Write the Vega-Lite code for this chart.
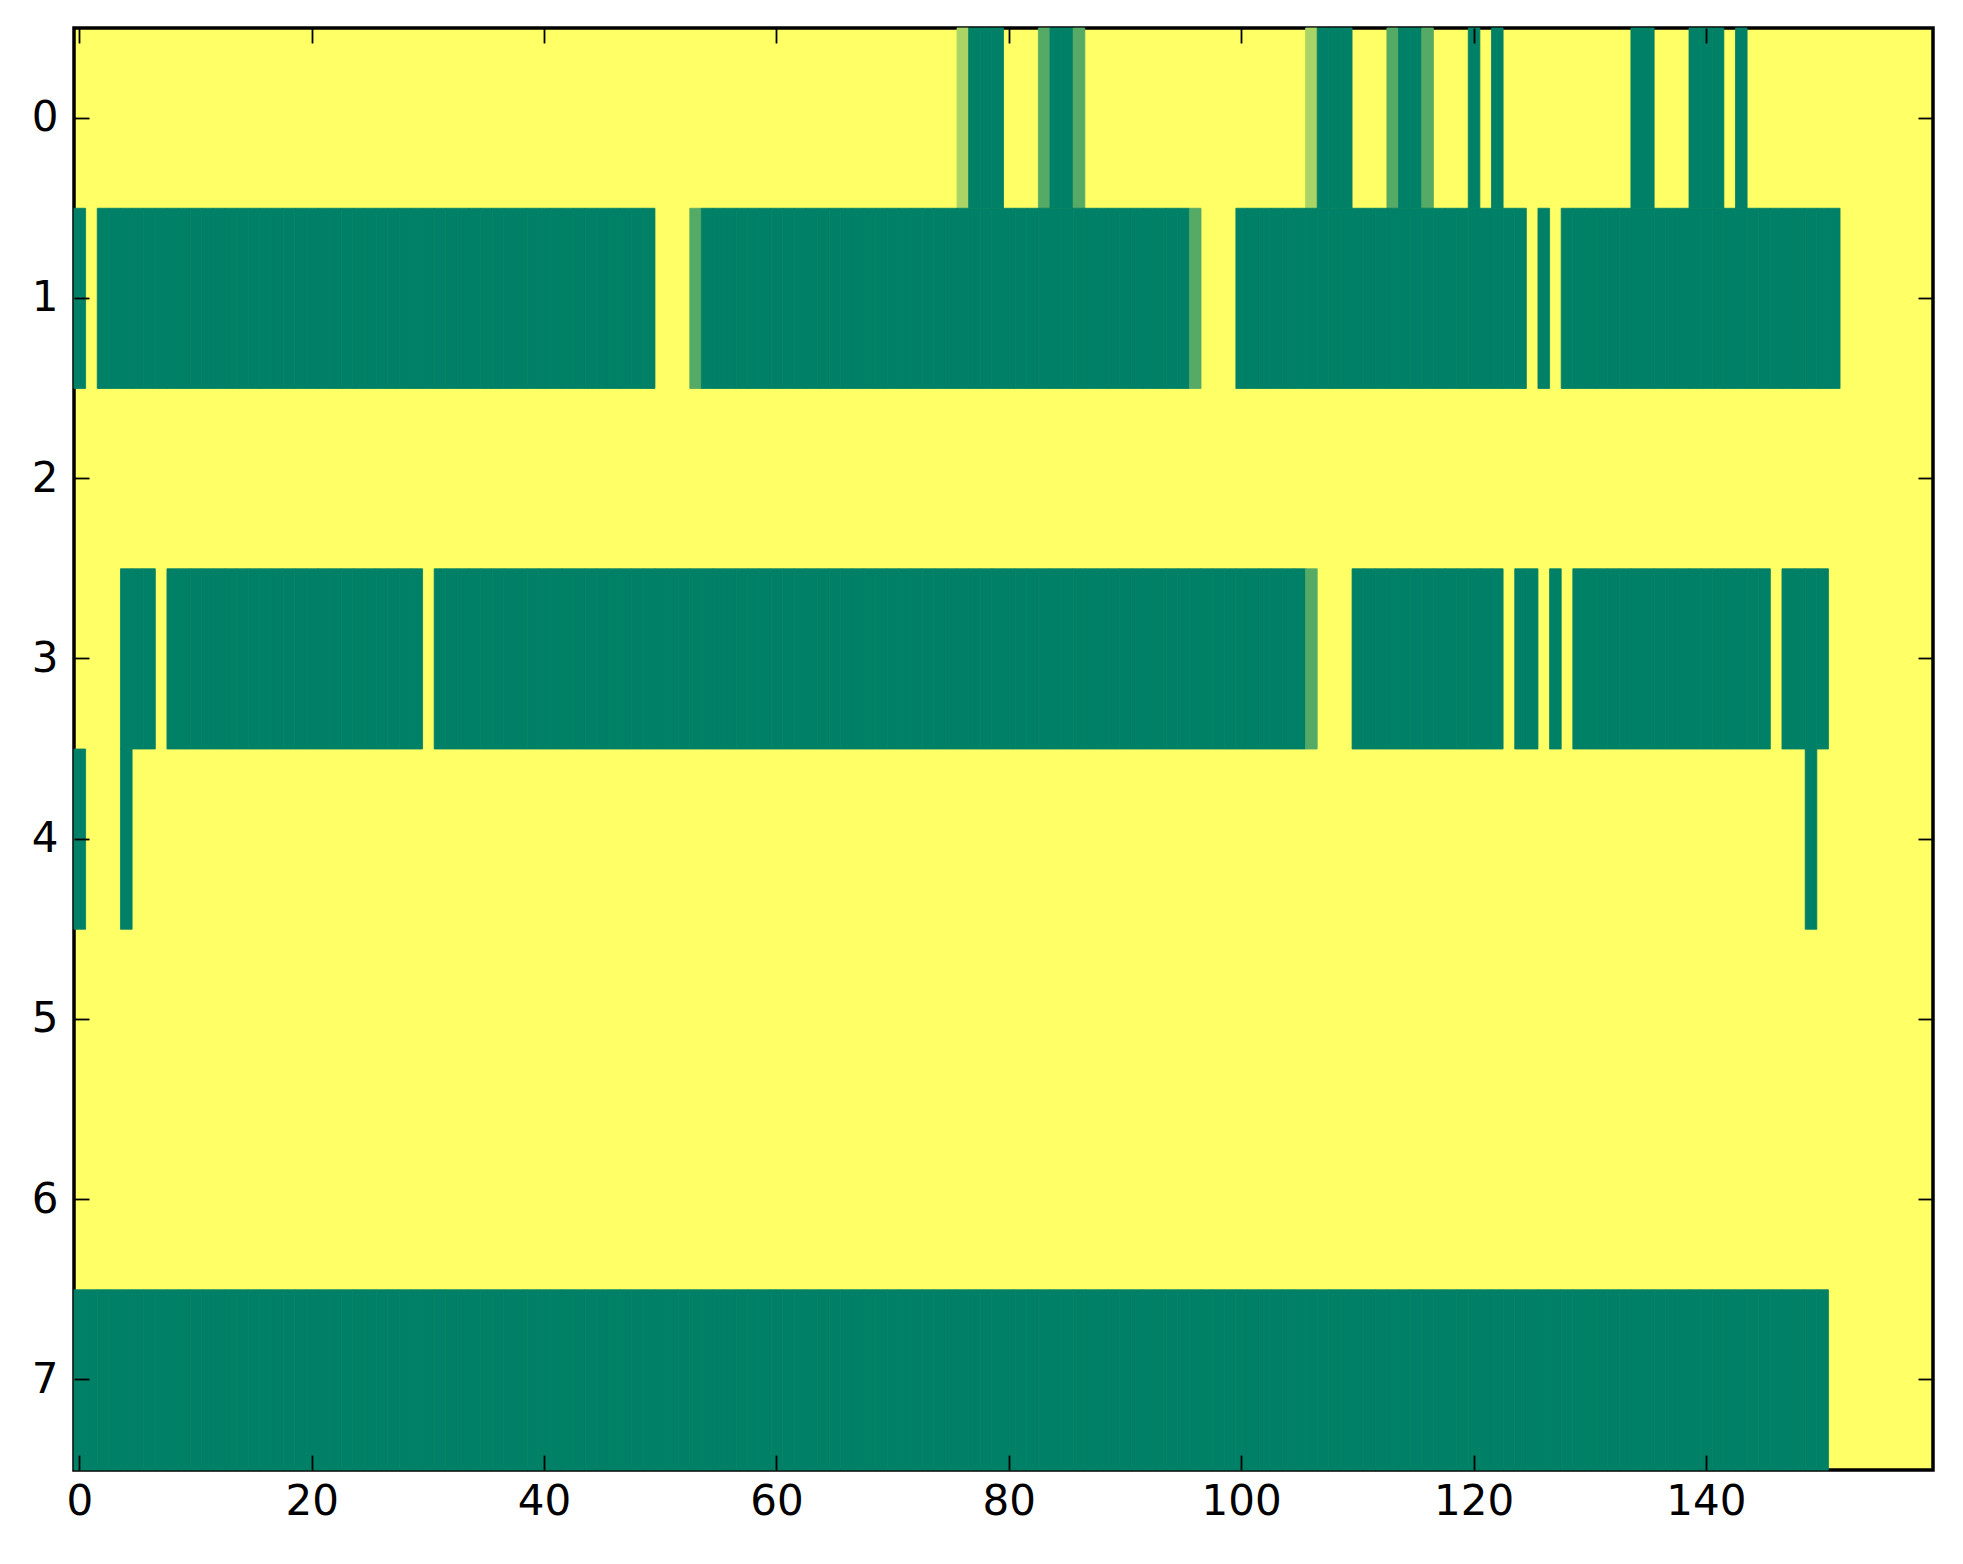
{
  "$schema": "https://vega.github.io/schema/vega-lite/v6.json",
  "width": 1859,
  "height": 1442,
  "autosize": "none",
  "padding": {"left": 74, "top": 28, "right": 30, "bottom": 94},
  "background": "white",
  "data": {
    "values": "r,c,v\n0,76,0.333\n0,77,1\n0,78,1\n0,79,1\n0,83,0.667\n0,84,1\n0,85,1\n0,86,0.667\n0,106,0.333\n0,107,1\n0,108,1\n0,109,1\n0,113,0.667\n0,114,1\n0,115,1\n0,116,0.667\n0,120,1\n0,122,1\n0,134,1\n0,135,1\n0,139,1\n0,140,1\n0,141,1\n0,143,1\n1,0,1\n1,2,1\n1,3,1\n1,4,1\n1,5,1\n1,6,1\n1,7,1\n1,8,1\n1,9,1\n1,10,1\n1,11,1\n1,12,1\n1,13,1\n1,14,1\n1,15,1\n1,16,1\n1,17,1\n1,18,1\n1,19,1\n1,20,1\n1,21,1\n1,22,1\n1,23,1\n1,24,1\n1,25,1\n1,26,1\n1,27,1\n1,28,1\n1,29,1\n1,30,1\n1,31,1\n1,32,1\n1,33,1\n1,34,1\n1,35,1\n1,36,1\n1,37,1\n1,38,1\n1,39,1\n1,40,1\n1,41,1\n1,42,1\n1,43,1\n1,44,1\n1,45,1\n1,46,1\n1,47,1\n1,48,1\n1,49,1\n1,53,0.667\n1,54,1\n1,55,1\n1,56,1\n1,57,1\n1,58,1\n1,59,1\n1,60,1\n1,61,1\n1,62,1\n1,63,1\n1,64,1\n1,65,1\n1,66,1\n1,67,1\n1,68,1\n1,69,1\n1,70,1\n1,71,1\n1,72,1\n1,73,1\n1,74,1\n1,75,1\n1,76,1\n1,77,1\n1,78,1\n1,79,1\n1,80,1\n1,81,1\n1,82,1\n1,83,1\n1,84,1\n1,85,1\n1,86,1\n1,87,1\n1,88,1\n1,89,1\n1,90,1\n1,91,1\n1,92,1\n1,93,1\n1,94,1\n1,95,1\n1,96,0.667\n1,100,1\n1,101,1\n1,102,1\n1,103,1\n1,104,1\n1,105,1\n1,106,1\n1,107,1\n1,108,1\n1,109,1\n1,110,1\n1,111,1\n1,112,1\n1,113,1\n1,114,1\n1,115,1\n1,116,1\n1,117,1\n1,118,1\n1,119,1\n1,120,1\n1,121,1\n1,122,1\n1,123,1\n1,124,1\n1,126,1\n1,128,1\n1,129,1\n1,130,1\n1,131,1\n1,132,1\n1,133,1\n1,134,1\n1,135,1\n1,136,1\n1,137,1\n1,138,1\n1,139,1\n1,140,1\n1,141,1\n1,142,1\n1,143,1\n1,144,1\n1,145,1\n1,146,1\n1,147,1\n1,148,1\n1,149,1\n1,150,1\n1,151,1\n3,4,1\n3,5,1\n3,6,1\n3,8,1\n3,9,1\n3,10,1\n3,11,1\n3,12,1\n3,13,1\n3,14,1\n3,15,1\n3,16,1\n3,17,1\n3,18,1\n3,19,1\n3,20,1\n3,21,1\n3,22,1\n3,23,1\n3,24,1\n3,25,1\n3,26,1\n3,27,1\n3,28,1\n3,29,1\n3,31,1\n3,32,1\n3,33,1\n3,34,1\n3,35,1\n3,36,1\n3,37,1\n3,38,1\n3,39,1\n3,40,1\n3,41,1\n3,42,1\n3,43,1\n3,44,1\n3,45,1\n3,46,1\n3,47,1\n3,48,1\n3,49,1\n3,50,1\n3,51,1\n3,52,1\n3,53,1\n3,54,1\n3,55,1\n3,56,1\n3,57,1\n3,58,1\n3,59,1\n3,60,1\n3,61,1\n3,62,1\n3,63,1\n3,64,1\n3,65,1\n3,66,1\n3,67,1\n3,68,1\n3,69,1\n3,70,1\n3,71,1\n3,72,1\n3,73,1\n3,74,1\n3,75,1\n3,76,1\n3,77,1\n3,78,1\n3,79,1\n3,80,1\n3,81,1\n3,82,1\n3,83,1\n3,84,1\n3,85,1\n3,86,1\n3,87,1\n3,88,1\n3,89,1\n3,90,1\n3,91,1\n3,92,1\n3,93,1\n3,94,1\n3,95,1\n3,96,1\n3,97,1\n3,98,1\n3,99,1\n3,100,1\n3,101,1\n3,102,1\n3,103,1\n3,104,1\n3,105,1\n3,106,0.667\n3,110,1\n3,111,1\n3,112,1\n3,113,1\n3,114,1\n3,115,1\n3,116,1\n3,117,1\n3,118,1\n3,119,1\n3,120,1\n3,121,1\n3,122,1\n3,124,1\n3,125,1\n3,127,1\n3,129,1\n3,130,1\n3,131,1\n3,132,1\n3,133,1\n3,134,1\n3,135,1\n3,136,1\n3,137,1\n3,138,1\n3,139,1\n3,140,1\n3,141,1\n3,142,1\n3,143,1\n3,144,1\n3,145,1\n3,147,1\n3,148,1\n3,149,1\n3,150,1\n4,0,1\n4,4,1\n4,149,1\n7,0,1\n7,1,1\n7,2,1\n7,3,1\n7,4,1\n7,5,1\n7,6,1\n7,7,1\n7,8,1\n7,9,1\n7,10,1\n7,11,1\n7,12,1\n7,13,1\n7,14,1\n7,15,1\n7,16,1\n7,17,1\n7,18,1\n7,19,1\n7,20,1\n7,21,1\n7,22,1\n7,23,1\n7,24,1\n7,25,1\n7,26,1\n7,27,1\n7,28,1\n7,29,1\n7,30,1\n7,31,1\n7,32,1\n7,33,1\n7,34,1\n7,35,1\n7,36,1\n7,37,1\n7,38,1\n7,39,1\n7,40,1\n7,41,1\n7,42,1\n7,43,1\n7,44,1\n7,45,1\n7,46,1\n7,47,1\n7,48,1\n7,49,1\n7,50,1\n7,51,1\n7,52,1\n7,53,1\n7,54,1\n7,55,1\n7,56,1\n7,57,1\n7,58,1\n7,59,1\n7,60,1\n7,61,1\n7,62,1\n7,63,1\n7,64,1\n7,65,1\n7,66,1\n7,67,1\n7,68,1\n7,69,1\n7,70,1\n7,71,1\n7,72,1\n7,73,1\n7,74,1\n7,75,1\n7,76,1\n7,77,1\n7,78,1\n7,79,1\n7,80,1\n7,81,1\n7,82,1\n7,83,1\n7,84,1\n7,85,1\n7,86,1\n7,87,1\n7,88,1\n7,89,1\n7,90,1\n7,91,1\n7,92,1\n7,93,1\n7,94,1\n7,95,1\n7,96,1\n7,97,1\n7,98,1\n7,99,1\n7,100,1\n7,101,1\n7,102,1\n7,103,1\n7,104,1\n7,105,1\n7,106,1\n7,107,1\n7,108,1\n7,109,1\n7,110,1\n7,111,1\n7,112,1\n7,113,1\n7,114,1\n7,115,1\n7,116,1\n7,117,1\n7,118,1\n7,119,1\n7,120,1\n7,121,1\n7,122,1\n7,123,1\n7,124,1\n7,125,1\n7,126,1\n7,127,1\n7,128,1\n7,129,1\n7,130,1\n7,131,1\n7,132,1\n7,133,1\n7,134,1\n7,135,1\n7,136,1\n7,137,1\n7,138,1\n7,139,1\n7,140,1\n7,141,1\n7,142,1\n7,143,1\n7,144,1\n7,145,1\n7,146,1\n7,147,1\n7,148,1\n7,149,1\n7,150,1\n",
    "format": {"type": "csv", "parse": {"r": "number", "c": "number", "v": "number"}}
  },
  "layer": [
    {
      "mark": {"type": "rect", "strokeWidth": 0.8},
      "encoding": {
        "x": {
          "field": "c",
          "type": "ordinal",
          "scale": {"domain": [0,1,2,3,4,5,6,7,8,9,10,11,12,13,14,15,16,17,18,19,20,21,22,23,24,25,26,27,28,29,30,31,32,33,34,35,36,37,38,39,40,41,42,43,44,45,46,47,48,49,50,51,52,53,54,55,56,57,58,59,60,61,62,63,64,65,66,67,68,69,70,71,72,73,74,75,76,77,78,79,80,81,82,83,84,85,86,87,88,89,90,91,92,93,94,95,96,97,98,99,100,101,102,103,104,105,106,107,108,109,110,111,112,113,114,115,116,117,118,119,120,121,122,123,124,125,126,127,128,129,130,131,132,133,134,135,136,137,138,139,140,141,142,143,144,145,146,147,148,149,150,151,152,153,154,155,156,157,158,159], "paddingInner": 0, "paddingOuter": 0},
          "axis": {"orient": "bottom", "values": [0,20,40,60,80,100,120,140], "labelAngle": 0, "labelPadding": 26}
        },
        "y": {
          "field": "r",
          "type": "ordinal",
          "scale": {"domain": [0,1,2,3,4,5,6,7], "paddingInner": 0, "paddingOuter": 0},
          "axis": {"orient": "left", "labelPadding": 31}
        },
        "color": {
          "field": "v",
          "type": "quantitative",
          "scale": {"domain": [0, 1], "range": ["#ffff66", "#008066"], "interpolate": "rgb"},
          "legend": null
        },
        "stroke": {
          "field": "v",
          "type": "quantitative",
          "scale": {"domain": [0, 1], "range": ["#ffff66", "#008066"], "interpolate": "rgb"},
          "legend": null
        }
      }
    },
    {
      "mark": {"type": "rect", "opacity": 0},
      "encoding": {
        "x": {
          "field": "c",
          "type": "ordinal",
          "axis": {"orient": "top", "values": [0,20,40,60,80,100,120,140], "labels": false}
        },
        "y": {
          "field": "r",
          "type": "ordinal",
          "axis": {"orient": "right", "labels": false}
        }
      }
    }
  ],
  "resolve": {"axis": {"x": "independent", "y": "independent"}},
  "config": {
    "view": {"fill": "#ffff66", "stroke": "black", "strokeWidth": 3.5},
    "axis": {
      "title": null,
      "domain": false,
      "grid": false,
      "ticks": true,
      "tickSize": -15,
      "tickWidth": 1.8,
      "tickColor": "black",
      "labelFont": "DejaVu Sans",
      "labelFontSize": 42,
      "labelColor": "black",
      "labelFlush": false,
      "labelOverlap": false,
      "labelBound": false
    }
  }
}
